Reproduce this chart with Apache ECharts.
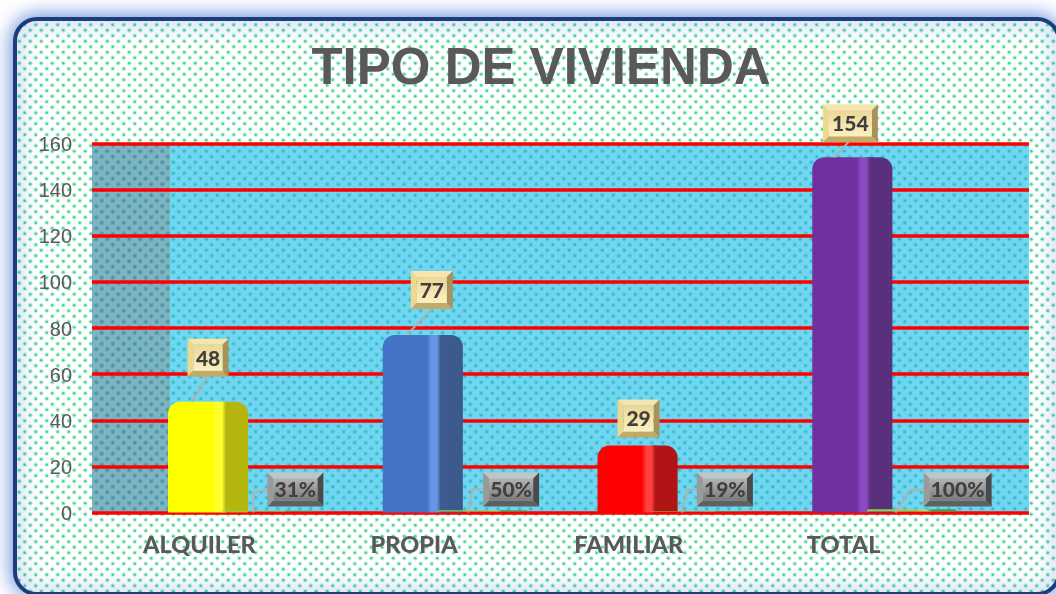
<!DOCTYPE html>
<html>
<head>
<meta charset="utf-8">
<title>TIPO DE VIVIENDA</title>
<style>
  html, body { margin: 0; padding: 0; background: #fff; }
  #chart { width: 1056px; height: 594px; }
</style>
<script src="https://cdn.jsdelivr.net/npm/echarts@6/dist/echarts.min.js"></script>
</head>
<body>
<div id="chart"></div>
<script>
// datos
const categories = ['ALQUILER', 'PROPIA', 'FAMILIAR', 'TOTAL']
const cantidad = [48, 77, 29, 154]
const porcentaje = [0.31, 0.5, 0.19, 1]
const yTicks = [0, 20, 40, 60, 80, 100, 120, 140, 160]

// color: frontal, brillo, lateral
const barColors = [
  ['#ffff00', '#ffff30', '#b5b50f'],
  ['#4472c4', '#6a95e6', '#3d5a8c'],
  ['#ff0000', '#ff4040', '#b01414'],
  ['#7030a0', '#8a4cc0', '#5a2f7d']
]
const pctColor = ['#92d050', '#a4dc66', '#4f9a4f']

// posicion de las etiquetas respecto a la barra (px): dx, dy, ancho
const countLabels = [
  { dx: 9, dy: -44, w: 41, line: [[8, -25], [-7, 0]] },
  { dx: 18, dy: -45, w: 42, line: [[17, -25], [-7, 0]] },
  { dx: 10, dy: -27, w: 42, line: null },
  { dx: 7, dy: -34, w: 55, line: [[5, -15], [-10, 0]] }
]
const pctLabels = [
  { dx: 96, w: 56, line: [[54, -20], [54, 0]] },
  { dx: 97, w: 56, line: [[58, -23], [54, 0]] },
  { dx: 96, w: 56, line: [[58, -23], [53, 0]] },
  { dx: 114, w: 68, line: [[66, -22], [52, 0]] }
]

// trama de puntos para el fondo
function dots(base, dot, halo) {
  const c = document.createElement('canvas')
  c.width = 11
  c.height = 11
  const g = c.getContext('2d')
  if (base) {
    g.fillStyle = base
    g.fillRect(0, 0, 11, 11)
  }
  const pts = [[2.75, 2.75], [8.25, 8.25]]
  pts.forEach(p => {
    g.fillStyle = halo
    g.beginPath()
    g.arc(p[0], p[1], 2.4, 0, Math.PI * 2)
    g.fill()
    g.fillStyle = dot
    g.beginPath()
    g.arc(p[0], p[1], 1.3, 0, Math.PI * 2)
    g.fill()
  })
  return { image: c, repeat: 'repeat' }
}

function hGrad(stops) {
  return new echarts.graphic.LinearGradient(0, 0, 1, 0, stops.map(s => ({ offset: s[0], color: s[1] })))
}
function vGrad(top, bottom) {
  return new echarts.graphic.LinearGradient(0, 0, 0, 1, [
    { offset: 0, color: top },
    { offset: 1, color: bottom }
  ])
}

// barra con cara frontal y lateral
function barShape(x, y, base, w, colors) {
  const front = Math.round(w * 0.72)
  const h = Math.max(base - y, 0.5)
  const r = Math.min(12, h)
  return [
    {
      type: 'rect',
      shape: { x: x + front - 4, y: y, width: w - front + 4, height: h, r: [0, r, 0, 0] },
      style: { fill: colors[2] }
    },
    {
      type: 'rect',
      shape: { x: x, y: y, width: front, height: h, r: [r, 0, 0, 0] },
      style: {
        fill: hGrad([
          [0, colors[0]],
          [0.76, colors[0]],
          [0.84, colors[1]],
          [0.93, colors[1]],
          [1, colors[2]]
        ])
      }
    }
  ]
}

// caja biselada con texto
function bevelBox(cx, cy, w, h, text, tone) {
  const x = cx - w / 2
  const y = cy - h / 2
  const b = 6
  const poly = (points, fill) => ({ type: 'polygon', shape: { points: points }, style: { fill: fill } })
  return [
    poly([[x, y], [x + w, y], [x + w - b, y + b], [x + b, y + b]], tone.top),
    poly([[x, y], [x + b, y + b], [x + b, y + h - b], [x, y + h]], tone.left),
    poly([[x + w, y], [x + w, y + h], [x + w - b, y + h - b], [x + w - b, y + b]], tone.right),
    poly([[x, y + h], [x + b, y + h - b], [x + w - b, y + h - b], [x + w, y + h]], tone.bottom),
    {
      type: 'rect',
      shape: { x: x + b, y: y + b, width: w - 2 * b, height: h - 2 * b },
      style: { fill: vGrad(tone.inner[0], tone.inner[1]) }
    },
    {
      type: 'text',
      style: {
        text: text,
        x: cx,
        y: cy + 1,
        align: 'center',
        verticalAlign: 'middle',
        fill: '#404040',
        font: '900 21px Lato'
      }
    }
  ]
}

const gold = { top: '#f6e6ae', left: '#ead98f', right: '#a8925a', bottom: '#c2aa68', inner: ['#ecd795', '#fdf0c0'] }
const grey = { top: '#c4c4c4', left: '#9a9a9a', right: '#4a4a4a', bottom: '#606060', inner: ['#b4b4b4', '#7a7a7a'] }

function leader(points) {
  return {
    type: 'polyline',
    shape: { points: points },
    style: { stroke: '#b0b0b0', lineWidth: 2, fill: 'none' }
  }
}

function renderCount(params, api) {
  const i = api.value(0)
  const v = api.value(1)
  const top = api.coord([i, v])
  const base = api.coord([i, 0])
  const band = api.size([1, 0])[0]
  const w = band * 0.373
  const x = top[0] - band * 0.146
  const cx = x + w / 2
  const lab = countLabels[i]
  const children = barShape(x, top[1], base[1], w, barColors[i])
  if (lab.line) {
    children.push(leader(lab.line.map(p => [x + w / 2 + p[0] - 9, top[1] + p[1]])))
  }
  return {
    type: 'group',
    children: children.concat(bevelBox(cx + lab.dx - 9, top[1] + lab.dy, lab.w, 38, String(v), gold))
  }
}

function renderPct(params, api) {
  const i = api.value(0)
  const v = api.value(1)
  const top = api.coord([i, v])
  const base = api.coord([i, 0])
  const band = api.size([1, 0])[0]
  const w = band * 0.42
  const x = top[0] + band * 0.107
  const lab = pctLabels[i]
  const cx = top[0] + lab.dx
  const cy = base[1] - 23
  const children = barShape(x, top[1] - 1, base[1] - 1, w, pctColor)
  children.push(leader([[cx - lab.w / 2, cy]].concat(lab.line.map(p => [top[0] + p[0], base[1] + p[1]]))))
  return {
    type: 'group',
    children: children.concat(bevelBox(cx, cy, lab.w, 34, Math.round(v * 100) + '%', grey))
  }
}

const chart = echarts.init(document.getElementById('chart'))
chart.setOption({
  animation: false,
  backgroundColor: '#fff',
  title: {
    text: 'TIPO DE VIVIENDA',
    left: 536,
    top: 39,
    textAlign: 'center',
    textStyle: { color: '#595959', fontFamily: 'Liberation Sans', fontWeight: 'bold', fontSize: 51 }
  },
  graphic: {
    elements: [
      {
        type: 'rect',
        z: -3,
        shape: { x: 15, y: 19, width: 1044, height: 575, r: 22 },
        style: {
          fill: dots('#ffffff', '#4fcf95', 'rgba(120,230,180,0.4)'),
          stroke: '#1c3c7c',
          lineWidth: 4,
          shadowBlur: 20,
          shadowColor: '#4f7fd8'
        }
      },
      {
        type: 'rect',
        z: -2,
        shape: { x: 92, y: 143, width: 937, height: 369 },
        style: { fill: dots('#72d5f3', '#2fc0b4', 'rgba(60,200,210,0.4)') }
      },
      {
        type: 'rect',
        z: -1,
        shape: { x: 92, y: 143, width: 78, height: 369 },
        style: { fill: dots('#7fb3c4', '#3c9a9a', 'rgba(60,150,150,0.4)') }
      }
    ]
  },
  grid: [
    { left: 92, top: 143.5, width: 937, height: 369 },
    { left: 92, top: 143.5, width: 859, height: 369 }
  ],
  xAxis: [
    { gridIndex: 0, type: 'category', data: categories, show: false },
    {
      gridIndex: 1,
      type: 'category',
      data: categories,
      axisLine: { show: false },
      axisTick: { show: false },
      axisLabel: { color: '#595959', fontFamily: 'Lato', fontWeight: 900, fontSize: 23.5, margin: 21 }
    }
  ],
  yAxis: [
    {
      gridIndex: 0,
      type: 'value',
      min: yTicks[0],
      max: yTicks[yTicks.length - 1],
      interval: yTicks[1] - yTicks[0],
      axisLine: { show: false },
      axisTick: { show: false },
      axisLabel: {
        color: '#595959',
        fontFamily: 'Liberation Sans',
        fontSize: 20,
        margin: 20,
        verticalAlign: 'top',
        lineHeight: 4
      },
      splitLine: { lineStyle: { color: '#ff0000', width: 3.5 } }
    },
    {
      gridIndex: 1,
      type: 'value',
      min: yTicks[0],
      max: yTicks[yTicks.length - 1],
      interval: yTicks[1] - yTicks[0],
      show: false,
      splitLine: { show: false }
    }
  ],
  series: [
    {
      name: 'Cantidad',
      type: 'custom',
      xAxisIndex: 1,
      yAxisIndex: 1,
      renderItem: renderCount,
      encode: { x: 0, y: 1 },
      data: cantidad.map((v, i) => [i, v])
    },
    {
      name: 'Porcentaje',
      type: 'custom',
      xAxisIndex: 1,
      yAxisIndex: 1,
      renderItem: renderPct,
      encode: { x: 0, y: 1 },
      data: porcentaje.map((v, i) => [i, v])
    }
  ]
})
</script>
</body>
</html>
